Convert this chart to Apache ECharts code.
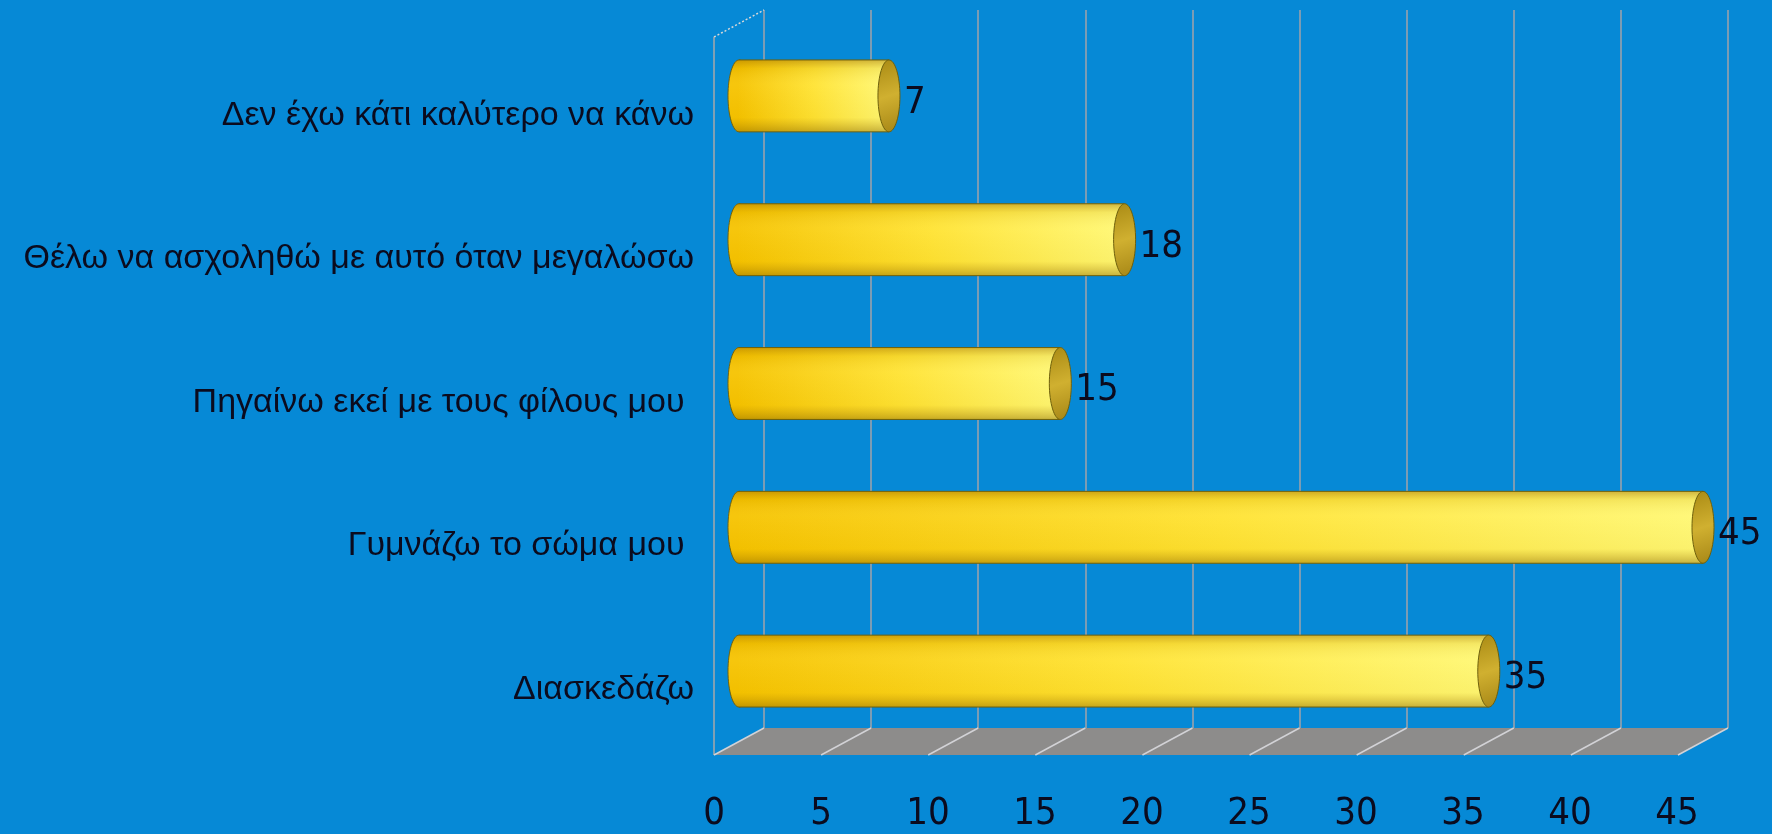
<!DOCTYPE html>
<html>
<head>
<meta charset="utf-8">
<title>chart</title>
<script src="https://cdn.jsdelivr.net/npm/echarts@6.0.0/dist/echarts.min.js"></script>
<style>
html, body { margin: 0; padding: 0; background: #0689d6; }
#chart { width: 1772px; height: 834px; }
</style>
</head>
<body>
<div id="chart"></div>
<script>
var categories = [
    'Διασκεδάζω',
    'Γυμνάζω το σώμα μου ',
    'Πηγαίνω εκεί με τους φίλους μου ',
    'Θέλω να ασχοληθώ με αυτό όταν μεγαλώσω',
    'Δεν έχω κάτι καλύτερο να κάνω'
];
var values = [35, 45, 15, 18, 7];
var xTicks = [0, 5, 10, 15, 20, 25, 30, 35, 40, 45];

// offset between the back wall and the front edge of the 3d floor
var DEPTH_X = 50;
var DEPTH_Y = 27;
var NARROW = '"Liberation Sans Narrow", "DejaVu Sans Condensed", "Liberation Sans", sans-serif';

function renderFloor(params, api) {
    var cs = params.coordSys;
    var yb = cs.y + cs.height;
    var p = api.coord([api.value(0), 0]);
    var children = [];
    if (params.dataIndex === 0) {
        children.push({
            type: 'polygon',
            shape: { points: [[cs.x, yb], [cs.x + cs.width, yb], [cs.x + cs.width - DEPTH_X, yb + DEPTH_Y], [cs.x - DEPTH_X, yb + DEPTH_Y]] },
            style: { fill: '#8d8c8b' }
        });
        // left side wall edges
        children.push({
            type: 'line',
            shape: { x1: cs.x - DEPTH_X, y1: cs.y + DEPTH_Y, x2: cs.x, y2: cs.y },
            style: { stroke: '#d8d8d8', lineWidth: 1.5, lineDash: [2, 2] }
        });
        children.push({
            type: 'line',
            shape: { x1: cs.x - DEPTH_X, y1: cs.y + DEPTH_Y, x2: cs.x - DEPTH_X, y2: yb + DEPTH_Y },
            style: { stroke: '#a9a9a9', lineWidth: 1.5 }
        });
    }
    children.push({
        type: 'line',
        shape: { x1: p[0], y1: yb, x2: p[0] - DEPTH_X, y2: yb + DEPTH_Y },
        style: { stroke: '#d2d2d6', lineWidth: 1.5 }
    });
    return { type: 'group', children: children };
}

function renderCylinder(params, api) {
    var val = api.value(0);
    var start = api.coord([0, api.value(1)]);
    var end = api.coord([val, api.value(1)]);
    var h = api.size([0, 1])[1] * 0.5;
    var cy = start[1];
    var ry = h / 2;
    var rx = 11;
    var body = { x: start[0], y: cy - ry, width: end[0] - start[0], height: h };
    var shade = new echarts.graphic.LinearGradient(0, 0, 0, 1, [
        { offset: 0, color: 'rgba(150,100,0,0.45)' },
        { offset: 0.12, color: 'rgba(170,120,0,0.12)' },
        { offset: 0.35, color: 'rgba(255,255,255,0.05)' },
        { offset: 0.8, color: 'rgba(170,120,0,0.05)' },
        { offset: 1, color: 'rgba(130,95,0,0.45)' }
    ]);
    return {
        type: 'group',
        children: [
            {
                type: 'ellipse',
                shape: { cx: start[0], cy: cy, rx: rx, ry: ry },
                style: { fill: '#f6c300', stroke: '#6e600c', lineWidth: 1 }
            },
            {
                type: 'ellipse',
                shape: { cx: start[0], cy: cy, rx: rx, ry: ry },
                style: { fill: shade }
            },
            {
                type: 'rect',
                shape: body,
                style: {
                    fill: new echarts.graphic.LinearGradient(0, 0, 1, 0, [
                        { offset: 0, color: '#f6c400' },
                        { offset: 0.5, color: '#ffe332' },
                        { offset: 1, color: '#fff874' }
                    ])
                }
            },
            { type: 'rect', shape: body, style: { fill: shade } },
            {
                type: 'line',
                shape: { x1: start[0], y1: cy - ry, x2: end[0], y2: cy - ry },
                style: { stroke: '#6e600c', lineWidth: 1 }
            },
            {
                type: 'line',
                shape: { x1: start[0], y1: cy + ry, x2: end[0], y2: cy + ry },
                style: { stroke: '#6e600c', lineWidth: 1 }
            },
            {
                type: 'ellipse',
                shape: { cx: end[0], cy: cy, rx: rx, ry: ry },
                style: {
                    fill: new echarts.graphic.LinearGradient(0, 0, 1, 1, [
                        { offset: 0, color: '#a98a14' },
                        { offset: 0.5, color: '#d0b030' },
                        { offset: 1, color: '#a68616' }
                    ]),
                    stroke: '#6e600c',
                    lineWidth: 1
                }
            },
            {
                type: 'text',
                x: end[0] + rx + 4,
                y: cy + 7,
                style: {
                    text: String(val),
                    fill: '#0b0b1e',
                    font: '38px ' + NARROW,
                    align: 'left',
                    verticalAlign: 'middle'
                }
            }
        ]
    };
}

var chart = echarts.init(document.getElementById('chart'));

var valueAxis = { type: 'value', min: 0, max: 45, interval: 5 };

option = {
    backgroundColor: '#0689d6',
    animation: false,
    grid: [
        { left: 764, top: 10, width: 964, height: 718 },   // back wall
        { left: 739, top: 24, width: 964, height: 719 },   // bars
        { left: 714, top: 44, width: 963, height: 717 }    // front labels
    ],
    xAxis: [
        Object.assign({}, valueAxis, {
            gridIndex: 0,
            axisLine: { show: false },
            axisTick: { show: false },
            axisLabel: { show: false },
            splitLine: { show: true, lineStyle: { color: '#a3a3a8', width: 1.5 } }
        }),
        Object.assign({}, valueAxis, { gridIndex: 1, show: false }),
        Object.assign({}, valueAxis, {
            gridIndex: 2,
            axisLine: { show: false },
            axisTick: { show: false },
            splitLine: { show: false },
            axisLabel: { color: '#0b0b1e', fontSize: 38, fontFamily: NARROW, margin: 34 }
        })
    ],
    yAxis: [
        { type: 'category', gridIndex: 0, data: categories, show: false },
        { type: 'category', gridIndex: 1, data: categories, show: false },
        {
            type: 'category',
            gridIndex: 2,
            data: categories,
            axisLine: { show: false },
            axisTick: { show: false },
            splitLine: { show: false },
            axisLabel: {
                color: '#0b0b1e',
                fontSize: 34,
                fontFamily: 'Liberation Sans, sans-serif',
                margin: 20
            }
        }
    ],
    series: [
        {
            type: 'custom',
            xAxisIndex: 0,
            yAxisIndex: 0,
            silent: true,
            renderItem: renderFloor,
            data: xTicks.map(function (t) { return [t, 0]; })
        },
        {
            type: 'custom',
            xAxisIndex: 1,
            yAxisIndex: 1,
            renderItem: renderCylinder,
            data: values.map(function (v, i) { return [v, i]; })
        }
    ]
};
chart.setOption(option);
</script>
</body>
</html>
